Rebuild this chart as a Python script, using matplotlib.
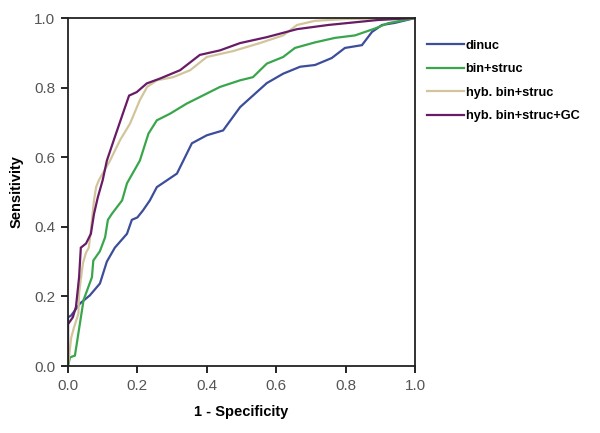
import matplotlib
matplotlib.use("Agg")
import matplotlib.pyplot as plt

plt.rcParams['font.family'] = ['Liberation Sans', 'DejaVu Sans']

labels = ["dinuc", "bin+struc", "hyb. bin+struc", "hyb. bin+struc+GC"]
colors = ["#3b4d9b", "#3aa64c", "#d2c59c", "#681c66"]

dinuc_x = [0.0, 0.0, 0.009, 0.035, 0.063, 0.092, 0.112, 0.135, 0.17, 0.184, 0.2, 0.216,
           0.236, 0.256, 0.314, 0.357, 0.4, 0.447, 0.496, 0.573, 0.62, 0.669, 0.712,
           0.76, 0.798, 0.847, 0.876, 0.905, 0.942, 1.0]
dinuc_y = [0.0, 0.14, 0.145, 0.18, 0.203, 0.237, 0.30, 0.34, 0.38, 0.42, 0.427, 0.447,
           0.476, 0.514, 0.553, 0.64, 0.663, 0.677, 0.744, 0.813, 0.84, 0.86, 0.865,
           0.885, 0.914, 0.922, 0.96, 0.98, 0.986, 1.0]

bin_x = [0.0, 0.006, 0.02, 0.03, 0.045, 0.069, 0.073, 0.092, 0.107, 0.115, 0.127, 0.156,
         0.17, 0.207, 0.232, 0.256, 0.294, 0.342, 0.4, 0.438, 0.496, 0.533, 0.573, 0.62,
         0.654, 0.712, 0.77, 0.827, 0.885, 0.922, 1.0]
bin_y = [0.0, 0.025, 0.03, 0.094, 0.19, 0.255, 0.303, 0.33, 0.37, 0.42, 0.438, 0.476,
         0.525, 0.59, 0.668, 0.706, 0.725, 0.754, 0.783, 0.802, 0.821, 0.83, 0.869, 0.888,
         0.914, 0.93, 0.943, 0.95, 0.97, 0.985, 1.0]

hyb_x = [0.0, 0.009, 0.017, 0.03, 0.032, 0.043, 0.052, 0.06, 0.066, 0.075, 0.081, 0.089,
         0.121, 0.15, 0.179, 0.207, 0.228, 0.256, 0.303, 0.352, 0.4, 0.476, 0.553, 0.62,
         0.66, 0.712, 0.8, 1.0]
hyb_y = [0.0, 0.08, 0.11, 0.15, 0.21, 0.295, 0.326, 0.34, 0.39, 0.476, 0.514, 0.534,
         0.59, 0.649, 0.697, 0.764, 0.802, 0.821, 0.83, 0.85, 0.888, 0.905, 0.928, 0.95,
         0.98, 0.992, 0.997, 1.0]

gc_x = [0.0, 0.0, 0.014, 0.023, 0.032, 0.037, 0.052, 0.066, 0.075, 0.086, 0.1, 0.112,
        0.135, 0.158, 0.176, 0.198, 0.227, 0.265, 0.323, 0.38, 0.438, 0.496, 0.573,
        0.66, 0.75, 0.89, 1.0]
gc_y = [0.0, 0.12, 0.14, 0.17, 0.255, 0.34, 0.352, 0.38, 0.437, 0.485, 0.534, 0.59,
        0.658, 0.725, 0.777, 0.787, 0.812, 0.826, 0.85, 0.894, 0.907, 0.928, 0.945,
        0.968, 0.98, 0.994, 1.0]

series = [(dinuc_x, dinuc_y), (bin_x, bin_y), (hyb_x, hyb_y), (gc_x, gc_y)]

fig = plt.figure(figsize=(6.0, 4.33), dpi=100)
ax = fig.add_axes([0.1133, 0.1547, 0.5784, 0.8037])

for (xs, ys), lab, col in zip(series, labels, colors):
    ax.plot(xs, ys, color=col, lw=1.6, label=lab, solid_joinstyle='miter')

ax.set_xlim(0, 1)
ax.set_ylim(0, 1)
ticks = [0.0, 0.2, 0.4, 0.6, 0.8, 1.0]
ax.set_xticks(ticks)
ax.set_yticks(ticks)
ax.set_xticklabels([f"{t:.1f}" for t in ticks])
ax.set_yticklabels([f"{t:.1f}" for t in ticks])
ax.tick_params(direction='out', length=5, width=1.2, labelsize=11, labelcolor='#555555',
               pad=4)
for s in ax.spines.values():
    s.set_linewidth(1.3)
    s.set_color('#222222')

ax.set_xlabel("1 - Specificity", fontsize=10.5, fontweight='bold', labelpad=9)
ax.set_ylabel("Sensitivity", fontsize=10.5, fontweight='bold', labelpad=8)

fig.legend(loc='upper left', bbox_to_anchor=(0.693, 0.935), frameon=False,
           prop={'size': 9.2, 'weight': 'bold'}, handlelength=2.9,
           handletextpad=0.1, labelspacing=0.9)

fig.savefig("out.png", dpi=100)
